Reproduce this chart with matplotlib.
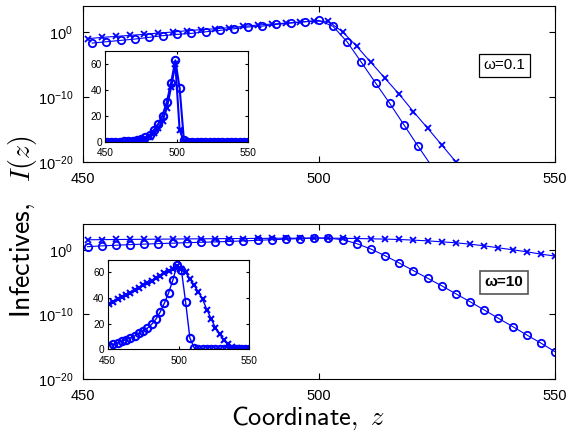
import numpy as np
import matplotlib
matplotlib.use("Agg")
import matplotlib.pyplot as plt

plt.rcParams['font.family'] = ['Liberation Sans', 'DejaVu Sans']
plt.rcParams['mathtext.fontset'] = 'custom'
plt.rcParams['mathtext.rm'] = 'Liberation Sans'
plt.rcParams['mathtext.it'] = 'Liberation Sans:italic'

# --- omega = 0.1, main panel (log scale) ---
z_top_o = np.arange(452, 525, 3)
I_top_o = [2.0e-2, 3.2e-2, 5.2e-2, 8.3e-2, 0.15, 0.28, 0.44, 0.62, 1.1, 1.8,
           3.2, 5.9, 8.3, 15, 24, 39, 62, 7.4, 2.9e-2, 2.1e-5, 1.4e-8,
           1.0e-11, 5.0e-15, 2.5e-18, 1.6e-21]
z_top_x = np.arange(451, 530, 3)
I_top_x = [9.3e-2, 0.15, 0.21, 0.31, 0.44, 0.71, 1.0, 1.6, 2.3, 3.2, 4.7, 7.4,
           12, 17, 24, 35, 49, 44, 1.1, 6.3e-3, 2.1e-5, 7.4e-8, 2.6e-10,
           5.5e-13, 1.6e-15, 4.0e-18, 1.0e-20]

# --- omega = 0.1, inset (linear) ---
z_in = np.arange(451, 551, 3)
I_in_o = [0.03, 0.05, 0.08, 0.13, 0.22, 0.4, 0.7, 1.1, 2.0, 3.4, 5.2, 9.1,
          13.7, 20.2, 30.5, 45.3, 62.8, 41.4, 1.3, 0.05, 0.01, 0, 0, 0, 0, 0,
          0, 0, 0, 0, 0, 0, 0, 0]
I_in_x = [0.02, 0.03, 0.05, 0.09, 0.15, 0.3, 0.5, 0.9, 1.4, 2.2, 3.5, 6.5,
          10.5, 16, 26, 42, 60, 9.1, 0.2, 0.01, 0, 0, 0, 0, 0, 0, 0, 0, 0, 0,
          0, 0, 0, 0]

# --- omega = 10 (same data in main panel and inset) ---
z_bot = np.arange(451, 551, 3)
I_bot_o = [3.0, 4.0, 5.0, 6.3, 7.5, 9.0, 10.5, 12.5, 14.5, 16.5, 19.5, 23.5,
           29, 36, 44, 54, 66, 62, 37, 9.0, 1.3, 0.12, 8.9e-3, 5.9e-4, 3.9e-5,
           2.6e-6, 1.5e-7, 8.9e-9, 4.7e-10, 2.4e-11, 1.3e-12, 6.3e-14,
           3.5e-15, 1.6e-16]
I_bot_x = [35, 37, 39, 40.5, 42, 44, 46, 48, 50, 51.5, 53.5, 55.5, 57.5, 59.5,
           61, 63, 65, 63, 60, 55, 50, 45, 39, 31, 24, 17, 12, 7.4, 4.1, 2.0,
           1.0, 0.49, 0.21, 0.105]

blue = '#0000ff'
fig = plt.figure(figsize=(5.67, 4.34), dpi=100)


def style_main(ax):
    ax.set_yscale('log')
    ax.set_xlim(450, 550)
    ax.set_ylim(1e-20, 1e4)
    ax.set_xticks([450, 500, 550])
    ax.set_yticks([1e-20, 1e-10, 1e0])
    ax.set_yticklabels([r'$10^{-20}$', r'$10^{-10}$', r'$10^{0}$'])
    ax.minorticks_off()
    ax.tick_params(direction='in', top=True, right=True, length=4,
                   labelsize=10.5, pad=7)


def style_inset(ax):
    ax.set_xlim(450, 550)
    ax.set_ylim(0, 70)
    ax.set_xticks([450, 500, 550])
    ax.set_yticks([0, 20, 40, 60])
    ax.tick_params(direction='in', top=True, right=True, length=2.5,
                   labelsize=7.3)
    ax.tick_params(axis='x', pad=4.5)
    ax.tick_params(axis='y', pad=2.5)


ax1 = fig.add_axes([0.146, 0.627, 0.833, 0.359])
ax1.plot(z_top_x, I_top_x, '-x', color=blue, lw=0.8, ms=4, mew=1.3)
ax1.plot(z_top_o, I_top_o, '-o', color=blue, lw=0.8, ms=5.3, mew=1.3, mfc='none')
style_main(ax1)
ax1.text(0.893, 0.62, 'ω=0.1', transform=ax1.transAxes, ha='center',
         va='center', fontsize=11,
         bbox=dict(boxstyle='square,pad=0.3', fc='white', ec='black', lw=0.9))

ax2 = fig.add_axes([0.146, 0.127, 0.833, 0.357])
ax2.plot(z_bot, I_bot_x, '-x', color=blue, lw=0.8, ms=4, mew=1.3)
ax2.plot(z_bot, I_bot_o, '-o', color=blue, lw=0.8, ms=5.3, mew=1.3, mfc='none')
style_main(ax2)
ax2.text(0.891, 0.623, 'ω=10', transform=ax2.transAxes, ha='center',
         va='center', fontsize=11, fontweight='bold',
         bbox=dict(boxstyle='square,pad=0.3', fc='white', ec='#555555', lw=1.2))

in1 = fig.add_axes([0.186, 0.6735, 0.2515, 0.209])
in1.plot(z_in, I_in_x, '-x', color=blue, lw=1.5, ms=4, mew=1.5)
in1.plot(z_in, I_in_o, '-o', color=blue, lw=1.5, ms=5.3, mew=1.5, mfc='none')
style_inset(in1)

in2 = fig.add_axes([0.19, 0.195, 0.2497, 0.207])
in2.plot(z_bot, I_bot_x, '-x', color=blue, lw=1.0, ms=4, mew=1.5)
in2.plot(z_bot, I_bot_o, '-o', color=blue, lw=1.0, ms=5.3, mew=1.5, mfc='none')
style_inset(in2)

fig.text(0.04, 0.477, r'$\mathsf{Infectives,}\ \ I(z)$', rotation=90,
         ha='center', va='center', fontsize=20, math_fontfamily='cm')
fig.text(0.543, 0.037, r'$\mathsf{Coordinate,}\ z$', ha='center',
         va='center', fontsize=19, math_fontfamily='cm')

fig.savefig('out.png', dpi=100)
